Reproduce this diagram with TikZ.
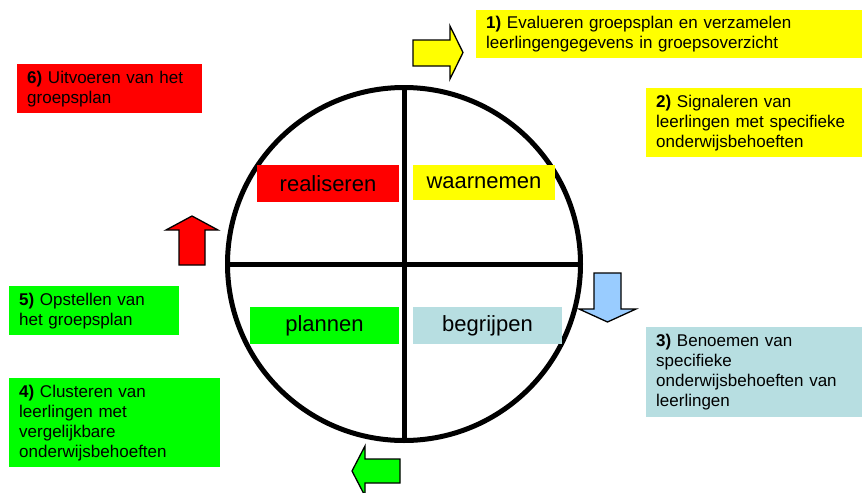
\documentclass[tikz,border=0pt]{standalone}
\usepackage{fontspec}
\setmainfont{Liberation Sans}
\definecolor{cyel}{HTML}{FFFF00}
\definecolor{cred}{HTML}{FF0000}
\definecolor{cgrn}{HTML}{00FF00}
\definecolor{cblu}{HTML}{B7DEE1}
\definecolor{carrblu}{HTML}{99CCFF}
\tikzset{
  stepbox/.style={anchor=north west, inner xsep=10pt, inner ysep=0pt, align=left,
    font=\fontsize{17}{20}\selectfont},
  phase/.style={inner sep=0pt, font=\fontsize{22}{24}\selectfont},
  bigarrow/.style={draw=black, line width=1.3pt, line join=miter},
}
\begin{document}
\begin{tikzpicture}[x=1pt,y=-1pt]
\useasboundingbox (0,0) rectangle (863,493);
% circle
\node[circle, draw, line width=5pt, minimum size=353pt, inner sep=0pt] (circ) at (404,264) {};
\draw[line width=5pt] (circ.north) -- (circ.south);
\draw[line width=5pt] (circ.west) -- (circ.east);
% phase labels
\node[phase, fill=cred, minimum width=142pt, minimum height=37pt] (real) at (328,183.5) {realiseren};
\node[phase, fill=cyel, minimum width=142pt, minimum height=35pt] (waar) at (484,182.5) {waarnemen};
\node[phase, fill=cgrn, minimum width=149pt, minimum height=37pt] (plan) at (324.5,325.5) {plannen};
\node[phase, fill=cblu, minimum width=149pt, minimum height=37pt] (begr) at (487.5,325.5) {begrijpen};
% step boxes
\node[stepbox, fill=cyel, text width=366pt, minimum height=48pt] (s1) at (476,10)
  {\textbf{1)} Evalueren groepsplan en verzamelen\\leerlingengegevens in groepsoverzicht};
\node[stepbox, fill=cyel, text width=196pt, minimum height=69pt] (s2) at (646,88)
  {\textbf{2)} Signaleren van\\leerlingen met specifieke\\onderwijsbehoeften};
\node[stepbox, fill=cblu, text width=196pt, minimum height=90pt] (s3) at (646,327)
  {\textbf{3)} Benoemen van\\specifieke\\onderwijsbehoeften van\\leerlingen};
\node[stepbox, fill=cgrn, text width=191pt, minimum height=89pt] (s4) at (9,378)
  {\textbf{4)} Clusteren van\\leerlingen met\\vergelijkbare\\onderwijsbehoeften};
\node[stepbox, fill=cgrn, text width=150pt, minimum height=49pt] (s5) at (9,286)
  {\textbf{5)} Opstellen van\\het groepsplan};
\node[stepbox, fill=cred, text width=165pt, minimum height=49pt] (s6) at (17,64)
  {\textbf{6)} Uitvoeren van het\\groepsplan};
% arrows
\draw[bigarrow, fill=cyel] (413,40) -- (450,40) -- (450,26) -- (463,52.5) -- (450,79) -- (450,66) -- (413,66) -- cycle;
\draw[bigarrow, fill=carrblu] (594,273) -- (621,273) -- (621,309) -- (636,309) -- (607.5,322) -- (579,309) -- (594,309) -- cycle;
\draw[bigarrow, fill=cgrn] (400,459) -- (365,459) -- (365,446) -- (352,471) -- (365,496) -- (365,483) -- (400,483) -- cycle;
\draw[bigarrow, fill=cred] (179,265) -- (179,230) -- (166,230) -- (192,216) -- (218,230) -- (205,230) -- (205,265) -- cycle;
\end{tikzpicture}
\end{document}
